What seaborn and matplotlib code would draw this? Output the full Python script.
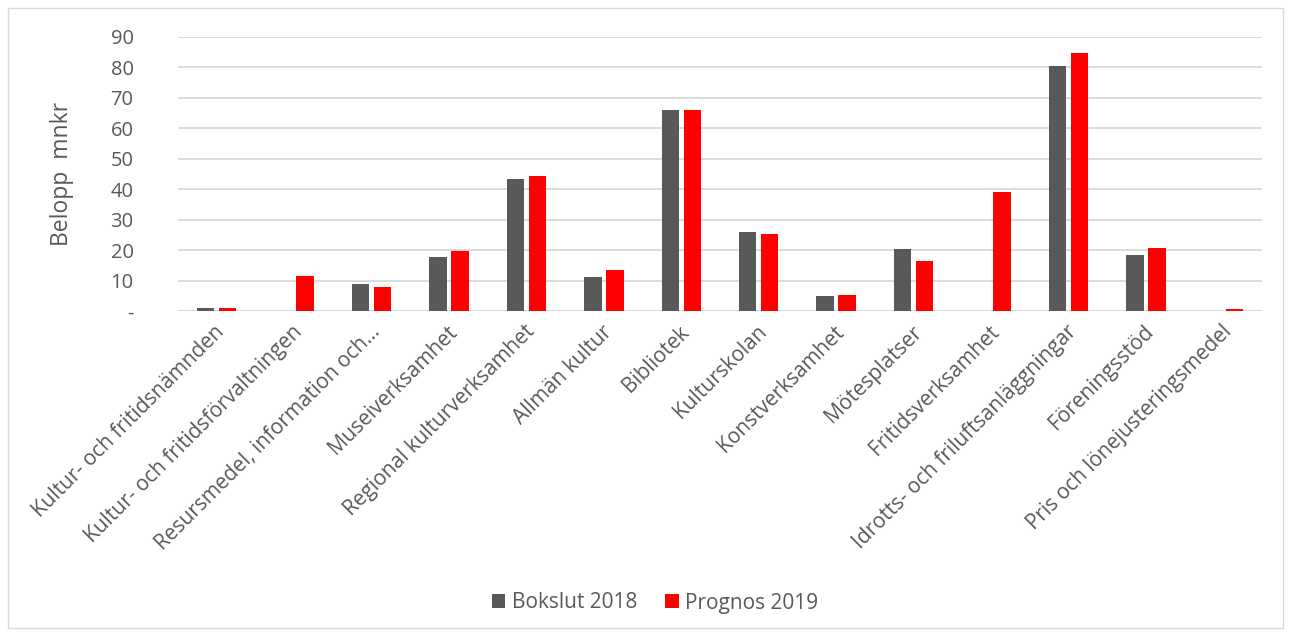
import pandas as pd
import matplotlib.pyplot as plt
import matplotlib.transforms as mtransforms
import seaborn as sns
from matplotlib.patches import Rectangle

# Chart data (mnkr)
categories = [
    "Kultur- och fritidsnämnden",
    "Kultur- och fritidsförvaltningen",
    "Resursmedel, information och...",
    "Museiverksamhet",
    "Regional kulturverksamhet",
    "Allmän kultur",
    "Bibliotek",
    "Kulturskolan",
    "Konstverksamhet",
    "Mötesplatser",
    "Fritidsverksamhet",
    "Idrotts- och friluftsanläggningar",
    "Föreningsstöd",
    "Pris och lönejusteringsmedel",
]
bokslut_2018 = [1.1, 0.0, 8.8, 17.8, 43.3, 11.3, 66.1, 25.8, 4.9, 20.3, 0.0, 80.4, 18.3, 0.0]
prognos_2019 = [1.1, 11.5, 7.9, 19.7, 44.4, 13.5, 65.9, 25.3, 5.2, 16.3, 39.1, 84.8, 20.6, 0.6]
series_names = ["Bokslut 2018", "Prognos 2019"]
y_ticks = [0, 10, 20, 30, 40, 50, 60, 70, 80, 90]
y_tick_labels = ["-", "10", "20", "30", "40", "50", "60", "70", "80", "90"]

TEXT = "#595959"
colors = {"Bokslut 2018": "#595959", "Prognos 2019": "#FF0000"}

df = pd.DataFrame({
    "kategori": categories * 2,
    "serie": [series_names[0]] * len(categories) + [series_names[1]] * len(categories),
    "belopp": bokslut_2018 + prognos_2019,
})

sns.set_style("white")
plt.rcParams["font.family"] = ["Open Sans", "DejaVu Sans"]

fig = plt.figure(figsize=(12.91, 6.37), dpi=100)
ax = fig.add_axes([178 / 1291, 1 - 311 / 637, (1262 - 178) / 1291, (311 - 37) / 637])

sns.barplot(data=df, x="kategori", y="belopp", hue="serie", palette=colors,
            width=0.57, gap=0.21, linewidth=0, saturation=1, ax=ax)

ax.set_ylim(0, 90)
ax.set_xlim(-0.5, len(categories) - 0.5)
ax.set_yticks(y_ticks)
ax.set_yticklabels(y_tick_labels, color=TEXT, fontsize=14.5)
ax.yaxis.grid(True, color="#D9D9D9", linewidth=1.3)
ax.set_axisbelow(True)
ax.tick_params(axis="both", length=0)
ax.tick_params(axis="y", pad=32)
ax.tick_params(axis="x", pad=10)

# nudge the rotated category labels a little right/down, like Excel does
shift = mtransforms.ScaledTranslation(5 / 100, -4 / 100, fig.dpi_scale_trans)
for lbl in ax.get_xticklabels():
    lbl.set_rotation(45)
    lbl.set_ha("right")
    lbl.set_va("center")
    lbl.set_rotation_mode("anchor")
    lbl.set_color(TEXT)
    lbl.set_fontsize(15)
    lbl.set_transform(lbl.get_transform() + shift)
sns.despine(ax=ax, left=True, bottom=True, top=True, right=True)
ax.axhline(0, color="#D9D9D9", linewidth=1.3, zorder=0)

ax.set_xlabel("")
ax.set_ylabel("Belopp  mnkr", color=TEXT, fontsize=16.5, labelpad=26)

handles, labels = ax.get_legend_handles_labels()
ax.get_legend().remove()
fig.legend(handles, labels, loc="center", bbox_to_anchor=(655 / 1291, 1 - 603 / 637), ncol=2,
           frameon=False, fontsize=15, labelcolor=TEXT, handlelength=0.65, handleheight=0.65,
           handletextpad=0.3, columnspacing=1.35)

# outer chart border
fig.patches.append(Rectangle((8 / 1291, 1 - 628 / 637), 1275 / 1291, 620 / 637,
                             transform=fig.transFigure, fill=False, edgecolor="#D9D9D9", linewidth=1))

fig.savefig("out.png", dpi=100)
plt.close(fig)
